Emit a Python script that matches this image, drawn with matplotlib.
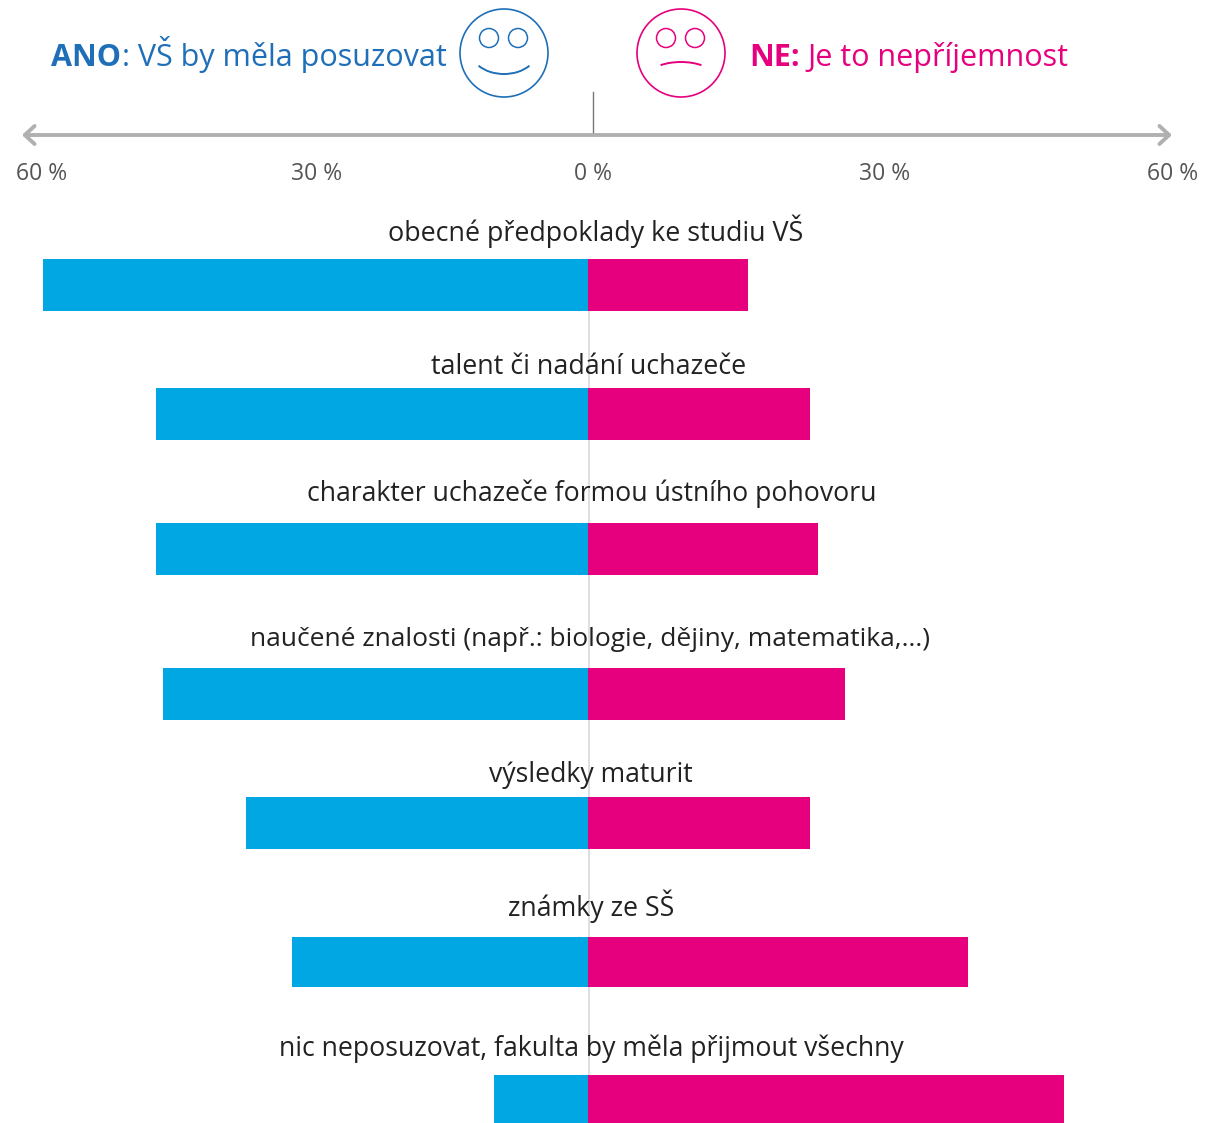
import matplotlib
matplotlib.use("Agg")
import matplotlib.pyplot as plt
from matplotlib.patches import Circle, Arc

plt.rcParams['font.family'] = ['Open Sans', 'DejaVu Sans']

labels = ["obecné předpoklady ke studiu VŠ", "talent či nadání uchazeče",
          "charakter uchazeče formou ústního pohovoru",
          "naučené znalosti (např.: biologie, dějiny, matematika,...)",
          "výsledky maturit", "známky ze SŠ",
          "nic neposuzovat, fakulta by měla přijmout všechny"]
ano = [60.0, 47.6, 47.6, 46.8, 37.7, 32.6, 10.4]
ne = [17.6, 24.5, 25.3, 28.3, 24.5, 41.8, 52.4]
tick_labels = ["60 %", "30 %", "0 %", "30 %", "60 %"]

BLUE = "#00a7e3"
PINK = "#e6007e"
DARKBLUE = "#1f6fb8"
W, H = 1206, 1123

fig = plt.figure(figsize=(W / 100, H / 100), dpi=100)

# everything is laid out in reference pixels on y, percent on x
ax = fig.add_axes([0, 0, 1, 1])
ax.set_xlim(-588 / 9.08, (W - 588) / 9.08)
ax.set_ylim(H, 0)
ax.axis("off")

bar_top = [259, 388, 523, 668, 797, 937, 1075]
bar_h = [52, 52, 52, 52, 52, 50, 52]
label_y = [231, 367, 494, 640, 775, 906, 1049]
label_x = [596, 589, 592, 590, 591, 591, 591]
label_size = [19.4, 19.4, 19.2, 19, 19.2, 19.3, 19.2]

# thin centre line, sits behind the bars and labels
ax.plot([0.1, 0.1], [311, H], color="#dcdcdc", lw=1.3, zorder=1)

for i in range(len(labels)):
    ax.barh(bar_top[i], -ano[i], height=bar_h[i], align="edge", color=BLUE, zorder=2)
    ax.barh(bar_top[i], ne[i], height=bar_h[i], align="edge", color=PINK, zorder=2)
    ax.text((label_x[i] - 588) / 9.08, label_y[i], labels[i], ha="center", va="center",
            fontsize=label_size[i], color="#222222", zorder=4)

# tick labels
tick_px = [42, 317, 593, 885, 1173]
for px, t in zip(tick_px, tick_labels):
    ax.text((px - 588) / 9.08, 174, t, ha="center", va="center", fontsize=16.5, color="#555555")

# overlay in plain pixels for axis arrow and smileys
ov = fig.add_axes([0, 0, 1, 1])
ov.set_xlim(0, W)
ov.set_ylim(H, 0)
ov.axis("off")
ov.patch.set_alpha(0)

ov.annotate("", xy=(22, 135), xytext=(1172, 135),
            arrowprops=dict(arrowstyle="<->,head_width=0.65,head_length=0.7", color="#b0b0b0", lw=2.8,
                            shrinkA=0, shrinkB=0))
ov.plot([593, 593], [92, 134], color="#777777", lw=1)

ov.text(51, 66, "ANO", color=DARKBLUE, fontsize=22, fontweight="bold", va="baseline")
ov.text(122, 66, ": VŠ by měla posuzovat", color=DARKBLUE, fontsize=22, va="baseline")
ov.text(749, 66, "NE:", color=PINK, fontsize=22, fontweight="bold", va="baseline")
ov.text(807, 66, "Je to nepříjemnost", color=PINK, fontsize=22, va="baseline")

def face(cx, cy, col, happy):
    ov.add_patch(Circle((cx, cy), 44, fill=False, ec=col, lw=1.2))
    ov.add_patch(Circle((cx - 15, cy - 15), 9.5, fill=False, ec=col, lw=1.1))
    ov.add_patch(Circle((cx + 14, cy - 15), 9.5, fill=False, ec=col, lw=1.1))
    if happy:
        ov.add_patch(Arc((cx, cy - 2), 66, 46, theta1=30, theta2=150, ec=col, lw=1.4))
    else:
        ov.add_patch(Arc((cx, cy + 24), 66, 30, theta1=210, theta2=330, ec=col, lw=1.4))

face(504, 53, DARKBLUE, True)
face(681, 53, PINK, False)

fig.savefig("out.png", dpi=100)
